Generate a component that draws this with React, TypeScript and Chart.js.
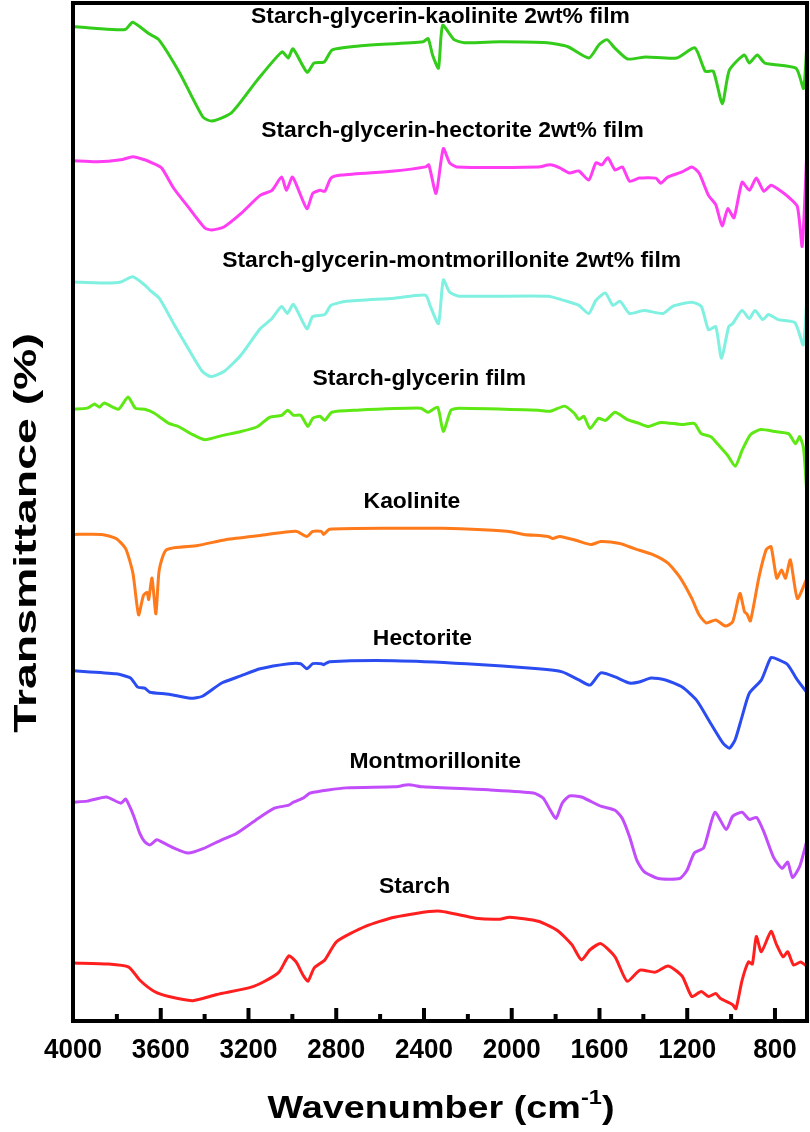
import React, { useEffect, useRef } from "react";
import { Chart, registerables } from "chart.js";

Chart.register(...registerables);

// ---- Data (wavenumber in cm-1, transmittance in stacked arbitrary % units) ----
const SERIES_NAMES = [
  "Starch-glycerin-kaolinite 2wt% film",
  "Starch-glycerin-hectorite 2wt% film",
  "Starch-glycerin-montmorillonite 2wt% film",
  "Starch-glycerin film",
  "Kaolinite",
  "Hectorite",
  "Montmorillonite",
  "Starch",
];

const WN_SGK = [4000, 3893, 3762, 3728, 3655, 3609, 3513, 3408, 3367, 3278, 3161, 3047, 3019, 2997, 2933, 2901, 2855, 2818, 2688, 2404, 2381, 2361, 2334, 2315, 2263, 2215, 2050, 1838, 1744, 1648, 1602, 1566, 1531, 1472, 1389, 1248, 1165, 1118, 1081, 1040, 1008, 940, 917, 881, 846, 704, 670, 656];
const T_SGK = [97.7, 97.5, 97.4, 98.1, 97.0, 96.4, 93.1, 88.8, 88.4, 89.2, 92.4, 95.2, 94.6, 95.5, 93.2, 94.1, 94.2, 95.4, 95.8, 96.2, 96.5, 94.9, 93.6, 97.8, 96.4, 96.1, 96.2, 96.1, 95.7, 94.6, 95.9, 96.4, 95.6, 94.5, 94.7, 94.6, 95.6, 93.3, 93.3, 90.1, 93.4, 94.9, 94.1, 94.9, 94.1, 93.6, 91.6, 95.4];

const WN_SGH = [4000, 3891, 3782, 3727, 3673, 3640, 3596, 3541, 3476, 3399, 3367, 3312, 3235, 3147, 3093, 3049, 3027, 2999, 2934, 2907, 2874, 2852, 2824, 2776, 2535, 2393, 2378, 2345, 2312, 2283, 2251, 1879, 1824, 1781, 1737, 1694, 1649, 1616, 1589, 1562, 1529, 1496, 1463, 1419, 1343, 1321, 1289, 1223, 1179, 1146, 1103, 1070, 1041, 1015, 987, 950, 917, 885, 851, 818, 785, 742, 698, 676, 656];
const T_SGH = [84.5, 84.4, 84.6, 84.9, 84.6, 84.3, 83.8, 81.8, 80.0, 77.9, 77.7, 78.0, 79.3, 81.1, 81.6, 82.9, 81.6, 82.9, 79.8, 81.3, 81.6, 81.5, 82.8, 83.1, 83.5, 83.9, 84.1, 81.3, 85.7, 84.3, 83.9, 83.9, 84.1, 83.8, 83.3, 83.5, 82.6, 84.3, 84.1, 84.8, 83.6, 83.9, 82.5, 82.8, 82.8, 82.3, 82.9, 83.4, 83.9, 83.3, 81.1, 80.2, 78.1, 79.8, 78.9, 82.4, 81.6, 82.8, 81.5, 82.1, 81.7, 81.0, 80.0, 76.1, 84.8];

const WN_SGM = [4000, 3848, 3782, 3728, 3673, 3650, 3607, 3541, 3476, 3410, 3371, 3312, 3235, 3147, 3093, 3049, 3023, 2995, 2934, 2907, 2852, 2824, 2754, 2535, 2393, 2371, 2334, 2312, 2283, 2240, 1835, 1749, 1694, 1649, 1616, 1573, 1539, 1506, 1463, 1398, 1310, 1267, 1179, 1136, 1103, 1070, 1044, 1011, 993, 950, 917, 891, 855, 830, 785, 709, 671, 656];
const T_SGM = [72.6, 72.5, 72.6, 73.1, 72.3, 71.8, 71.0, 68.5, 66.1, 63.8, 63.3, 63.8, 65.4, 68.0, 69.0, 70.2, 69.5, 70.4, 68.0, 69.2, 69.4, 70.3, 70.7, 71.0, 71.3, 70.2, 68.5, 72.8, 71.6, 71.2, 71.2, 70.7, 70.3, 69.5, 70.8, 71.5, 70.3, 70.7, 69.5, 69.8, 69.5, 70.2, 70.6, 70.2, 67.9, 68.2, 65.1, 68.2, 68.5, 69.8, 69.0, 69.8, 68.9, 69.4, 68.9, 68.6, 66.4, 70.5];

const WN_SG = [4000, 3935, 3902, 3880, 3858, 3793, 3749, 3716, 3673, 3629, 3563, 3520, 3454, 3399, 3322, 3235, 3158, 3104, 3049, 3021, 2995, 2962, 2929, 2907, 2874, 2852, 2820, 2710, 2415, 2382, 2338, 2312, 2277, 2240, 1879, 1824, 1759, 1715, 1694, 1671, 1643, 1605, 1573, 1529, 1475, 1419, 1376, 1321, 1223, 1168, 1136, 1092, 1058, 1017, 981, 949, 912, 866, 798, 738, 706, 688, 670, 656];
const T_SG = [60.1, 60.2, 60.6, 60.3, 60.7, 60.1, 61.3, 60.2, 60.1, 59.7, 58.7, 58.4, 57.6, 57.1, 57.5, 57.9, 58.4, 59.3, 59.5, 60.0, 59.5, 59.5, 58.4, 59.2, 59.4, 59.0, 59.8, 60.0, 60.2, 59.8, 60.3, 57.9, 60.0, 60.2, 60.0, 59.9, 60.4, 59.7, 59.1, 59.4, 58.2, 59.2, 59.0, 59.8, 59.1, 58.7, 58.4, 58.8, 58.6, 58.7, 57.7, 57.4, 56.6, 55.6, 54.5, 56.1, 57.6, 58.1, 57.9, 57.7, 56.7, 57.4, 56.3, 52.2];

const WN_KAO = [4000, 3870, 3804, 3760, 3727, 3701, 3679, 3662, 3655, 3640, 3622, 3607, 3574, 3432, 3301, 3147, 2984, 2934, 2907, 2868, 2857, 2831, 2535, 2316, 2021, 1945, 1835, 1813, 1781, 1704, 1638, 1594, 1507, 1441, 1354, 1289, 1234, 1179, 1146, 1113, 1070, 1026, 993, 960, 939, 928, 912, 873, 840, 818, 792, 770, 752, 730, 698, 658];
const T_KAO = [47.8, 47.8, 47.4, 46.4, 44.0, 39.9, 41.8, 42.1, 41.4, 43.5, 40.0, 44.3, 46.3, 46.7, 47.3, 47.7, 48.1, 47.6, 48.1, 48.1, 47.8, 48.3, 48.4, 48.4, 48.1, 47.8, 47.6, 47.4, 47.6, 47.2, 46.8, 47.1, 46.9, 46.4, 45.8, 45.0, 43.6, 41.5, 39.9, 39.1, 39.4, 38.8, 39.2, 42.0, 40.2, 40.0, 39.3, 43.6, 46.3, 46.6, 43.5, 44.3, 43.5, 45.3, 41.5, 43.3];

const WN_HEC = [4000, 3804, 3738, 3705, 3673, 3650, 3563, 3465, 3410, 3322, 3235, 3147, 3016, 2962, 2934, 2907, 2868, 2857, 2831, 2535, 2207, 1879, 1770, 1694, 1643, 1594, 1529, 1463, 1419, 1365, 1299, 1223, 1157, 1092, 1037, 1008, 982, 950, 917, 862, 818, 785, 742, 698, 656];
const T_HEC = [34.4, 34.1, 33.7, 32.8, 32.7, 32.3, 32.1, 31.7, 31.9, 33.2, 33.9, 34.6, 35.1, 35.1, 34.6, 35.1, 35.1, 35.0, 35.3, 35.4, 35.1, 34.6, 34.3, 33.5, 33.0, 34.2, 33.8, 33.2, 33.3, 33.7, 33.5, 32.8, 31.5, 29.2, 27.3, 26.8, 27.6, 29.9, 32.2, 33.5, 35.7, 35.5, 35.0, 33.5, 32.3];

const WN_MMT = [4000, 3935, 3848, 3782, 3760, 3738, 3716, 3695, 3673, 3650, 3618, 3596, 3541, 3476, 3410, 3322, 3257, 3169, 3082, 3016, 2995, 2951, 2918, 2754, 2535, 2470, 2404, 2098, 1901, 1857, 1824, 1798, 1770, 1737, 1682, 1594, 1529, 1496, 1463, 1430, 1398, 1333, 1234, 1201, 1168, 1125, 1074, 1022, 993, 950, 917, 884, 851, 807, 768, 742, 720, 687, 656];
const T_MMT = [21.5, 21.6, 22.0, 21.4, 21.8, 20.9, 19.7, 18.4, 17.6, 17.3, 17.8, 17.6, 17.0, 16.5, 16.9, 17.8, 18.4, 19.7, 20.9, 21.2, 21.5, 21.9, 22.4, 22.9, 23.0, 23.2, 23.0, 22.7, 22.4, 21.9, 20.7, 19.9, 21.4, 22.1, 22.0, 21.1, 20.7, 19.9, 18.1, 15.8, 14.7, 14.0, 14.0, 14.8, 16.5, 17.0, 20.5, 18.8, 20.1, 20.5, 19.8, 20.0, 18.6, 16.1, 15.0, 15.6, 14.1, 15.2, 17.6];

const WN_STA = [4000, 3838, 3746, 3695, 3629, 3563, 3454, 3344, 3191, 3126, 3061, 3016, 2983, 2951, 2929, 2901, 2852, 2798, 2667, 2535, 2338, 2165, 2055, 2010, 1879, 1792, 1726, 1682, 1643, 1594, 1529, 1474, 1415, 1346, 1287, 1223, 1179, 1136, 1103, 1070, 1048, 993, 978, 950, 921, 903, 885, 862, 818, 793, 763, 742, 715, 683, 656];
const T_STA = [5.7, 5.6, 5.3, 4.0, 2.9, 2.4, 2.0, 2.6, 3.3, 3.9, 4.8, 6.4, 5.8, 4.5, 3.9, 5.2, 6.0, 7.8, 9.3, 10.2, 10.8, 10.1, 10.0, 10.2, 9.8, 8.9, 7.5, 6.0, 7.0, 7.6, 6.3, 3.9, 5.0, 4.8, 5.4, 4.4, 2.4, 2.9, 2.4, 2.7, 2.2, 1.6, 1.2, 4.0, 5.8, 5.6, 8.3, 6.8, 8.8, 7.5, 6.3, 6.8, 5.5, 5.8, 5.4];

const SERIES_WN = [WN_SGK, WN_SGH, WN_SGM, WN_SG, WN_KAO, WN_HEC, WN_MMT, WN_STA];
const SERIES_T = [T_SGK, T_SGH, T_SGM, T_SG, T_KAO, T_HEC, T_MMT, T_STA];
const SERIES_COLORS = ["#33cc1a", "#ff3df2", "#80f0e0", "#5ee814", "#ff7a1a", "#2b4cf0", "#c24dfa", "#ff1f1f"];

// label anchors (centre wavenumber, baseline value)
const LABEL_WN = [2325, 2270, 2274, 2421, 2455, 2407, 2349, 2443];
const LABEL_T = [98.0, 86.8, 74.1, 62.5, 50.4, 36.9, 24.9, 12.6];

const MAJOR_TICKS = [4000, 3600, 3200, 2800, 2400, 2000, 1600, 1200, 800];
const MINOR_TICKS = [3800, 3400, 3000, 2600, 2200, 1800, 1400, 1000];
const X_MIN = 654;
const X_MAX = 4000;

const FONT = '"Liberation Sans", Arial, Helvetica, sans-serif';

function drawText(ctx: CanvasRenderingContext2D, text: string, cx: number, cy: number, size: number, sx: number, rot = 0, baseline: CanvasTextBaseline = "alphabetic") {
  ctx.save();
  ctx.translate(cx, cy);
  ctx.rotate(rot);
  ctx.scale(sx, 1);
  ctx.font = `bold ${size}px ${FONT}`;
  ctx.fillStyle = "#000";
  ctx.textAlign = "center";
  ctx.textBaseline = baseline;
  ctx.fillText(text, 0, 0);
  ctx.restore();
}

const decorPlugin = {
  id: "decor",
  afterDraw(chart: any) {
    const ctx: CanvasRenderingContext2D = chart.ctx;
    const a = chart.chartArea;
    const xs = chart.scales.x;
    const ys = chart.scales.y;
    ctx.save();
    // frame
    ctx.strokeStyle = "#000";
    ctx.lineWidth = 4;
    ctx.strokeRect(a.left, a.top, a.right - a.left, a.bottom - a.top);
    // ticks (inward)
    ctx.lineWidth = 4;
    ctx.beginPath();
    for (const v of MAJOR_TICKS) {
      const px = xs.getPixelForValue(v);
      ctx.moveTo(px, a.bottom);
      ctx.lineTo(px, a.bottom - 13);
    }
    for (const v of MINOR_TICKS) {
      const px = xs.getPixelForValue(v);
      ctx.moveTo(px, a.bottom);
      ctx.lineTo(px, a.bottom - 7);
    }
    ctx.stroke();
    // tick labels
    for (const v of MAJOR_TICKS) {
      drawText(ctx, String(v), xs.getPixelForValue(v), a.bottom + 37, 28, 0.93);
    }
    // series labels
    SERIES_NAMES.forEach((name, i) => {
      drawText(ctx, name, xs.getPixelForValue(LABEL_WN[i]), ys.getPixelForValue(LABEL_T[i]), 22, 1.04);
    });
    // x title with superscript
    {
      const cx = (a.left + a.right) / 2 + 1;
      const by = a.bottom + 97;
      const sx = 1.18;
      ctx.save();
      ctx.translate(cx, by);
      ctx.scale(sx, 1);
      ctx.fillStyle = "#000";
      ctx.textBaseline = "alphabetic";
      ctx.textAlign = "left";
      const parts = [
        { t: "Wavenumber (cm", s: 32, dy: 0 },
        { t: "-1", s: 20, dy: -14 },
        { t: ")", s: 32, dy: 0 },
      ];
      let total = 0;
      for (const p of parts) {
        ctx.font = `bold ${p.s}px ${FONT}`;
        total += ctx.measureText(p.t).width;
      }
      let x = -total / 2;
      for (const p of parts) {
        ctx.font = `bold ${p.s}px ${FONT}`;
        ctx.fillText(p.t, x, p.dy);
        x += ctx.measureText(p.t).width;
      }
      ctx.restore();
    }
    // y title
    drawText(ctx, "Transmittance (%)", 36, 533, 32, 1.45, -Math.PI / 2);
    ctx.restore();
  },
};

export default function App() {
  const ref = useRef<HTMLCanvasElement | null>(null);
  useEffect(() => {
    if (!ref.current) return;
    const datasets = SERIES_NAMES.map((name, i) => ({
      label: name,
      data: SERIES_WN[i].map((w, j) => ({ x: w, y: SERIES_T[i][j] })),
      borderColor: SERIES_COLORS[i],
      backgroundColor: SERIES_COLORS[i],
      borderWidth: 3,
      pointRadius: 0,
      tension: 0.2,
      fill: false,
    }));
    const chart = new Chart(ref.current, {
      type: "line",
      data: { datasets },
      options: {
        responsive: false,
        animation: false,
        devicePixelRatio: 1,
        parsing: false as any,
        layout: { padding: { left: 73, right: 3, top: 3, bottom: 111 } },
        plugins: { legend: { display: false }, tooltip: { enabled: false } },
        scales: {
          x: { type: "linear", reverse: true, min: X_MIN, max: X_MAX, display: false },
          y: { type: "linear", min: 0, max: 100, display: false },
        },
      },
      plugins: [decorPlugin],
    });
    return () => chart.destroy();
  }, []);
  return (
    <div style={{ position: "fixed", left: 0, top: 0, width: 810, height: 1132, background: "#fff" }}>
      <canvas ref={ref} width={810} height={1132} style={{ width: 810, height: 1132, display: "block" }} />
    </div>
  );
}
